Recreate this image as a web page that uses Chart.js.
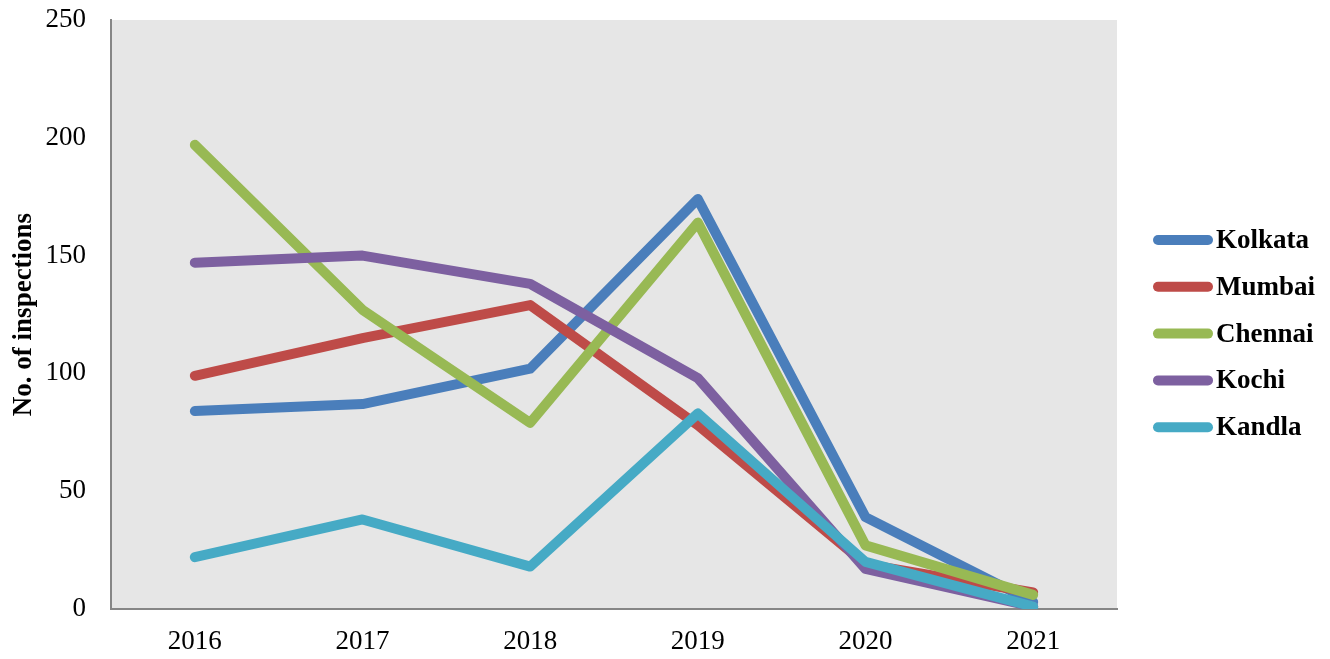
<!DOCTYPE html>
<html lang="en">
<head>
    <meta charset="UTF-8">
    <title>No. of inspections</title>
    <script src="https://cdn.jsdelivr.net/npm/chart.js"></script>
    <style>
        body { margin: 0; background: #fff; }
        #wrap { width: 1330px; height: 659px; }
    </style>
</head>
<body>
    <div id="wrap"><canvas id="myChart" width="1330" height="659"></canvas></div>
    <script>
        const years = ['2016', '2017', '2018', '2019', '2020', '2021'];
        const kolkata = [84, 87, 102, 174, 39, 3];
        const mumbai = [99, 115, 129, 78, 19, 7];
        const chennai = [197, 127, 79, 164, 27, 6];
        const kochi = [147, 150, 138, 98, 17, 1];
        const kandla = [22, 38, 18, 83, 20, 1];
        const seriesNames = ['Kolkata', 'Mumbai', 'Chennai', 'Kochi', 'Kandla'];
        const seriesColors = ['#4A7EBB', '#BE4B48', '#98B954', '#7D60A0', '#46AAC5'];

        const serif = "'Liberation Serif', 'DejaVu Serif', serif";

        // grey plot area
        const plotBg = {
            id: 'plotBg',
            beforeDraw(chart) {
                const a = chart.chartArea;
                const c = chart.ctx;
                c.save();
                c.fillStyle = '#E6E6E6';
                c.fillRect(a.left, a.top, a.right - a.left, a.bottom - a.top);
                c.restore();
            }
        };

        // legend on the right, short thick line + bold name
        const sideLegend = {
            id: 'sideLegend',
            afterDraw(chart) {
                const c = chart.ctx;
                c.save();
                c.font = 'bold 27px ' + serif;
                c.textBaseline = 'middle';
                seriesNames.forEach(function(name, i) {
                    const y = 240 + i * 46.8;
                    c.strokeStyle = seriesColors[i];
                    c.lineWidth = 10;
                    c.lineCap = 'round';
                    c.beginPath();
                    c.moveTo(1158, y);
                    c.lineTo(1208, y);
                    c.stroke();
                    c.fillStyle = '#000';
                    c.fillText(name, 1216, y + 1);
                });
                c.restore();
            }
        };

        // later series sit on top, like the original
        const datasets = [kolkata, mumbai, chennai, kochi, kandla].map(function(vals, i) {
            return {
                label: seriesNames[i],
                data: vals,
                order: 4 - i,
                borderColor: seriesColors[i],
                backgroundColor: seriesColors[i],
                borderWidth: 10,
                borderCapStyle: 'round',
                borderJoinStyle: 'round',
                pointRadius: 0,
                tension: 0
            };
        });

        const ctx = document.getElementById('myChart').getContext('2d');
        const myChart = new Chart(ctx, {
            type: 'line',
            data: { labels: years, datasets: datasets },
            plugins: [plotBg, sideLegend],
            options: {
                responsive: false,
                animation: false,
                layout: { padding: { left: 0, right: 213, top: 20, bottom: 0 } },
                plugins: {
                    legend: { display: false },
                    tooltip: { enabled: false }
                },
                scales: {
                    x: {
                        offset: true,
                        grid: { display: false, drawTicks: false },
                        border: { color: '#868686', width: 2 },
                        ticks: { color: '#000', font: { family: serif, size: 27 }, padding: 17 },
                        afterFit: function(scale) { scale.height = 50; scale.paddingLeft = 0; scale.paddingRight = 0; }
                    },
                    y: {
                        min: 0,
                        max: 250,
                        grid: { display: false, drawTicks: false },
                        border: { color: '#868686', width: 2 },
                        ticks: { stepSize: 50, color: '#000', font: { family: serif, size: 27 }, padding: 25 },
                        title: {
                            display: true,
                            text: 'No. of inspections',
                            color: '#000',
                            font: { family: serif, size: 27, weight: 'bold' },
                            padding: { top: 8, bottom: 0 }
                        },
                        afterFit: function(scale) { scale.width = 111; scale.paddingTop = 0; scale.paddingBottom = 0; }
                    }
                }
            }
        });
    </script>
</body>
</html>
